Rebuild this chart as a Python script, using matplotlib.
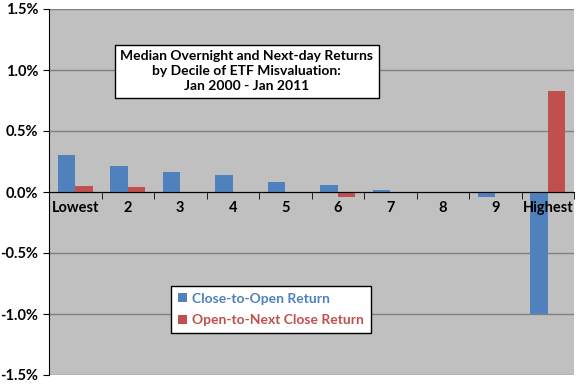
import matplotlib.pyplot as plt
import numpy as np
from matplotlib.ticker import FuncFormatter, FixedLocator

deciles = ["Lowest", "2", "3", "4", "5", "6", "7", "8", "9", "Highest"]
close_to_open = [0.30, 0.21, 0.16, 0.14, 0.08, 0.06, 0.02, 0.00, -0.04, -1.00]
open_to_close = [0.05, 0.04, 0.00, 0.00, 0.00, -0.04, -0.01, -0.01, 0.00, 0.83]

plt.rcParams['font.family'] = ['Lato', 'DejaVu Sans']

fig = plt.figure(figsize=(5.76, 3.84), dpi=100)
fig.patch.set_facecolor('white')
ax = fig.add_axes([49 / 576, 9 / 384, 525 / 576, 366 / 384])
ax.set_facecolor('#c0c0c0')

x = np.arange(len(deciles))
w = 0.333
ax.bar(x - w / 2, close_to_open, w, color='#4f81bd', label='Close-to-Open Return', zorder=2)
ax.bar(x + w / 2, open_to_close, w, color='#c0504d', label='Open-to-Next Close Return', zorder=2)

ax.set_xlim(-0.5, len(deciles) - 0.5)
ax.set_ylim(-1.5, 1.5)
ax.set_yticks(np.arange(-1.5, 1.51, 0.5))
ax.yaxis.set_major_formatter(FuncFormatter(lambda v, p: f"{v:.1f}%"))
ax.yaxis.grid(True, color='#808080', linewidth=1, zorder=0)
ax.tick_params(axis='y', labelsize=10.5, length=4, direction='out')
for t in ax.get_yticklabels():
    t.set_fontweight('bold')

# x axis sits on the zero line
ax.spines['bottom'].set_position(('data', 0))
ax.spines['top'].set_visible(False)
ax.spines['right'].set_visible(False)
ax.set_xticks([])
ax.xaxis.set_minor_locator(FixedLocator(np.arange(-0.5, len(deciles), 1.0)))
ax.tick_params(axis='x', which='minor', length=5, direction='out')
for i, lab in enumerate(deciles):
    ax.text(x[i], -0.07, lab, ha='center', va='top', fontsize=10.5, fontweight='bold')

ax.text(0.377, 0.83, "Median Overnight and Next-day Returns\nby Decile of ETF Misvaluation:\nJan 2000 - Jan 2011",
        transform=ax.transAxes, ha='center', va='center', fontsize=10, fontweight='bold',
        linespacing=1.3,
        bbox=dict(boxstyle='square,pad=0.4', facecolor='white', edgecolor='black', linewidth=1))

leg = ax.legend(loc='lower left', bbox_to_anchor=(0.22, 0.095), frameon=True, fancybox=False,
                edgecolor='black', facecolor='white', framealpha=1, fontsize=10,
                handlelength=0.6, handleheight=0.6, handletextpad=0.4, labelspacing=0.7,
                borderpad=0.5)
leg.get_frame().set_linewidth(1)
for txt, c in zip(leg.get_texts(), ['#4f81bd', '#c0504d']):
    txt.set_color(c)
    txt.set_fontweight('bold')

fig.savefig('out.png', dpi=100)
